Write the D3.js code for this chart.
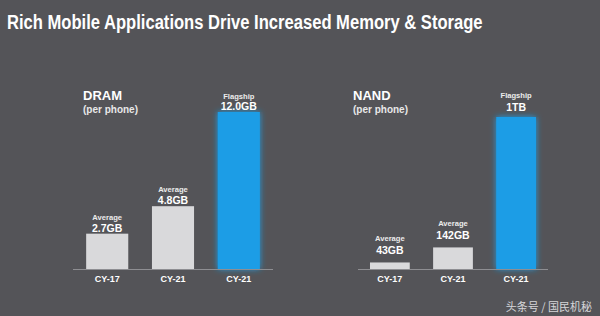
<!DOCTYPE html>
<html>
<head>
<meta charset="utf-8">
<script src="https://cdn.jsdelivr.net/npm/d3@7"></script>
<style>
  html, body { margin: 0; padding: 0; background: #545458; }
  svg { display: block; }
</style>
</head>
<body>
<div id="chart"></div>
<script>
const title = "Rich Mobile Applications Drive Increased Memory & Storage"
const categories = ["CY-17", "CY-21", "CY-21"]
const tiers = ["Average", "Average", "Flagship"]
const dramValues = [2.7, 4.8, 12.0]
const dramLabels = ["2.7GB", "4.8GB", "12.0GB"]
const nandValues = [43, 142, 1000]
const nandLabels = ["43GB", "142GB", "1TB"]
const watermark = "头条号 / 国民机秘"

const width = 600
const height = 316
const baseline = 269
const font = "Arial, 'Liberation Sans', sans-serif"

const svg = d3.select("#chart")
  .append("svg")
  .attr("width", width)
  .attr("height", height)

svg.append("rect")
  .attr("width", width)
  .attr("height", height)
  .attr("fill", "#545458")

// glow for the flagship bar
const defs = svg.append("defs")
const glow = defs.append("filter").attr("id", "glow")
  .attr("x", "-30%").attr("y", "-10%").attr("width", "160%").attr("height", "120%")
glow.append("feGaussianBlur").attr("in", "SourceGraphic").attr("stdDeviation", 3).attr("result", "blur")
const merge = glow.append("feMerge")
merge.append("feMergeNode").attr("in", "blur")
merge.append("feMergeNode").attr("in", "SourceGraphic")

// title is a condensed face in the slide: squeeze it horizontally
const titleText = svg.append("text")
  .attr("fill", "#ffffff")
  .attr("font-family", font)
  .attr("font-weight", "bold")
  .attr("font-size", 21)
  .text(title)
const tw = titleText.node().getComputedTextLength()
titleText.attr("transform", `translate(7,29) scale(${476 / tw},1)`)

const drawPanel = (opts) => {
  const g = svg.append("g")
  const idx = opts.values.map((d, i) => i)

  const x = d3.scaleBand()
    .domain(idx)
    .range(opts.range)
    .paddingInner(opts.pIn)
    .paddingOuter(opts.pOut)

  const y = d3.scaleLinear()
    .domain([0, opts.max])
    .range([baseline, opts.top])

  // panel heading
  g.append("text")
    .attr("x", opts.headX)
    .attr("y", 100)
    .attr("fill", "#ffffff")
    .attr("font-family", font)
    .attr("font-weight", "bold")
    .attr("font-size", 13)
    .text(opts.name)
  g.append("text")
    .attr("x", opts.headX)
    .attr("y", 113)
    .attr("fill", "#e8e8e8")
    .attr("font-family", font)
    .attr("font-weight", "bold")
    .attr("font-size", 10)
    .text("(per phone)")

  g.selectAll("rect.bar")
    .data(idx)
    .join("rect")
    .attr("class", "bar")
    .attr("x", (i) => x(i))
    .attr("y", (i) => y(opts.values[i]))
    .attr("width", x.bandwidth())
    .attr("height", (i) => baseline - y(opts.values[i]))
    .attr("fill", (i) => (tiers[i] === "Flagship" ? "#1c9de6" : "#d9d9db"))
    .attr("filter", (i) => (tiers[i] === "Flagship" ? "url(#glow)" : null))

  // axis line
  g.append("line")
    .attr("x1", opts.range[0])
    .attr("x2", opts.range[1])
    .attr("y1", baseline + 0.5)
    .attr("y2", baseline + 0.5)
    .attr("stroke", "#8e8e92")
    .attr("stroke-width", 1.2)

  const cx = (i) => x(i) + x.bandwidth() / 2
  const isFlag = (i) => tiers[i] === "Flagship"

  g.selectAll("text.cat")
    .data(idx)
    .join("text")
    .attr("class", "cat")
    .attr("x", cx)
    .attr("y", 282)
    .attr("text-anchor", "middle")
    .attr("fill", "#ffffff")
    .attr("font-family", font)
    .attr("font-weight", "bold")
    .attr("font-size", 9)
    .text((i) => categories[i])

  g.selectAll("text.val")
    .data(idx)
    .join("text")
    .attr("class", "val")
    .attr("x", cx)
    .attr("y", (i) => y(opts.values[i]) - (isFlag(i) ? opts.flagGap : opts.gap))
    .attr("text-anchor", "middle")
    .attr("fill", "#ffffff")
    .attr("font-family", font)
    .attr("font-weight", "bold")
    .attr("font-size", 10.5)
    .text((i) => opts.labels[i])

  g.selectAll("text.tier")
    .data(idx)
    .join("text")
    .attr("class", "tier")
    .attr("x", cx)
    .attr("y", (i) => isFlag(i)
      ? y(opts.values[i]) - opts.flagGap - opts.flagTierGap
      : y(opts.values[i]) - opts.gap - opts.tierGap)
    .attr("text-anchor", "middle")
    .attr("fill", "#ececec")
    .attr("font-family", font)
    .attr("font-weight", "bold")
    .attr("font-size", 7.6)
    .text((i) => tiers[i])
}

drawPanel({
  name: "DRAM", headX: 83, values: dramValues, labels: dramLabels,
  max: 12, top: 112, range: [73, 273], pIn: 0.36, pOut: 0.2,
  gap: 2, tierGap: 12, flagGap: 2, flagTierGap: 11.5
})

drawPanel({
  name: "NAND", headX: 353, values: nandValues, labels: nandLabels,
  max: 1000, top: 117, range: [358, 548], pIn: 0.37, pOut: 0.19,
  gap: 8, tierGap: 13, flagGap: 6, flagTierGap: 13
})

svg.append("text")
  .attr("x", 592)
  .attr("y", 311)
  .attr("text-anchor", "end")
  .attr("fill", "#d6d6d8")
  .attr("font-family", "'Noto Sans CJK SC', sans-serif")
  .attr("font-size", 11)
  .text(watermark)
</script>
</body>
</html>
